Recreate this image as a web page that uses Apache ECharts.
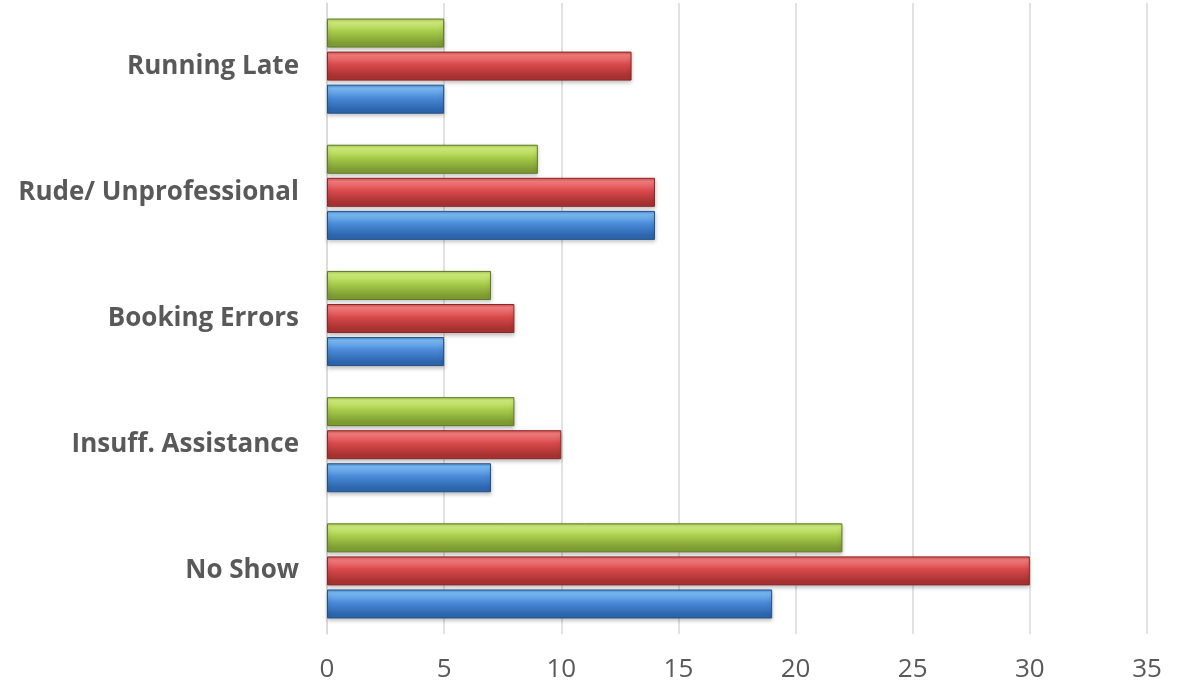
<!DOCTYPE html>
<html><head><meta charset="utf-8">
<script src="https://cdn.jsdelivr.net/npm/echarts@6/dist/echarts.min.js"></script>
<style>html,body{margin:0;padding:0;background:#fff}#c{width:1186px;height:690px}</style>
</head><body><div id="c"></div>
<script>
var categories = ['No Show', 'Insuff. Assistance', 'Booking Errors', 'Rude/ Unprofessional', 'Running Late'];
var blueValues = [19, 7, 5, 14, 5];
var redValues = [30, 10, 8, 14, 13];
var greenValues = [22, 8, 7, 9, 5];
var xTicks = [0, 5, 10, 15, 20, 25, 30, 35];

function grad(light, mid, dark) {
  return new echarts.graphic.LinearGradient(0, 0, 0, 1, [
    {offset: 0, color: mid},
    {offset: 0.12, color: light},
    {offset: 0.45, color: mid},
    {offset: 0.85, color: dark},
    {offset: 1, color: dark}
  ]);
}
function mk(name, data, light, mid, dark, border) {
  return {
    name: name, type: 'bar', data: data,
    barWidth: 29, barGap: '14%',
    itemStyle: {color: grad(light, mid, dark), borderColor: border, borderWidth: 1,
      shadowColor: 'rgba(0,0,0,0.25)', shadowBlur: 4, shadowOffsetY: 2}
  };
}
var chart = echarts.init(document.getElementById('c'));
chart.setOption({
  animation: false,
  grid: {left: 327, right: 39, top: 3, bottom: 56},
  xAxis: {
    type: 'value', min: xTicks[0], max: xTicks[xTicks.length - 1], interval: 5,
    axisLine: {show: false}, axisTick: {show: false},
    splitLine: {lineStyle: {color: '#d9d9d9', width: 1.5}},
    axisLabel: {color: '#595959', fontSize: 26, fontFamily: 'Open Sans', margin: 23}
  },
  yAxis: {
    type: 'category', data: categories,
    axisLine: {show: true, lineStyle: {color: '#d9d9d9', width: 1.5}},
    axisTick: {show: false},
    axisLabel: {color: '#595959', fontSize: 26, fontWeight: 'bold', fontFamily: 'Open Sans', margin: 28, padding: [4, 0, 0, 0]}
  },
  series: [
    mk('Green', greenValues, '#d2ee7e', '#a6cc4a', '#7e9c33', '#607a28'),
    mk('Red', redValues, '#f47f7f', '#d9494a', '#a83232', '#8a2828'),
    mk('Blue', blueValues, '#7cbcf4', '#4a8ad8', '#2d66ad', '#244f88')
  ]
});
</script></body></html>
